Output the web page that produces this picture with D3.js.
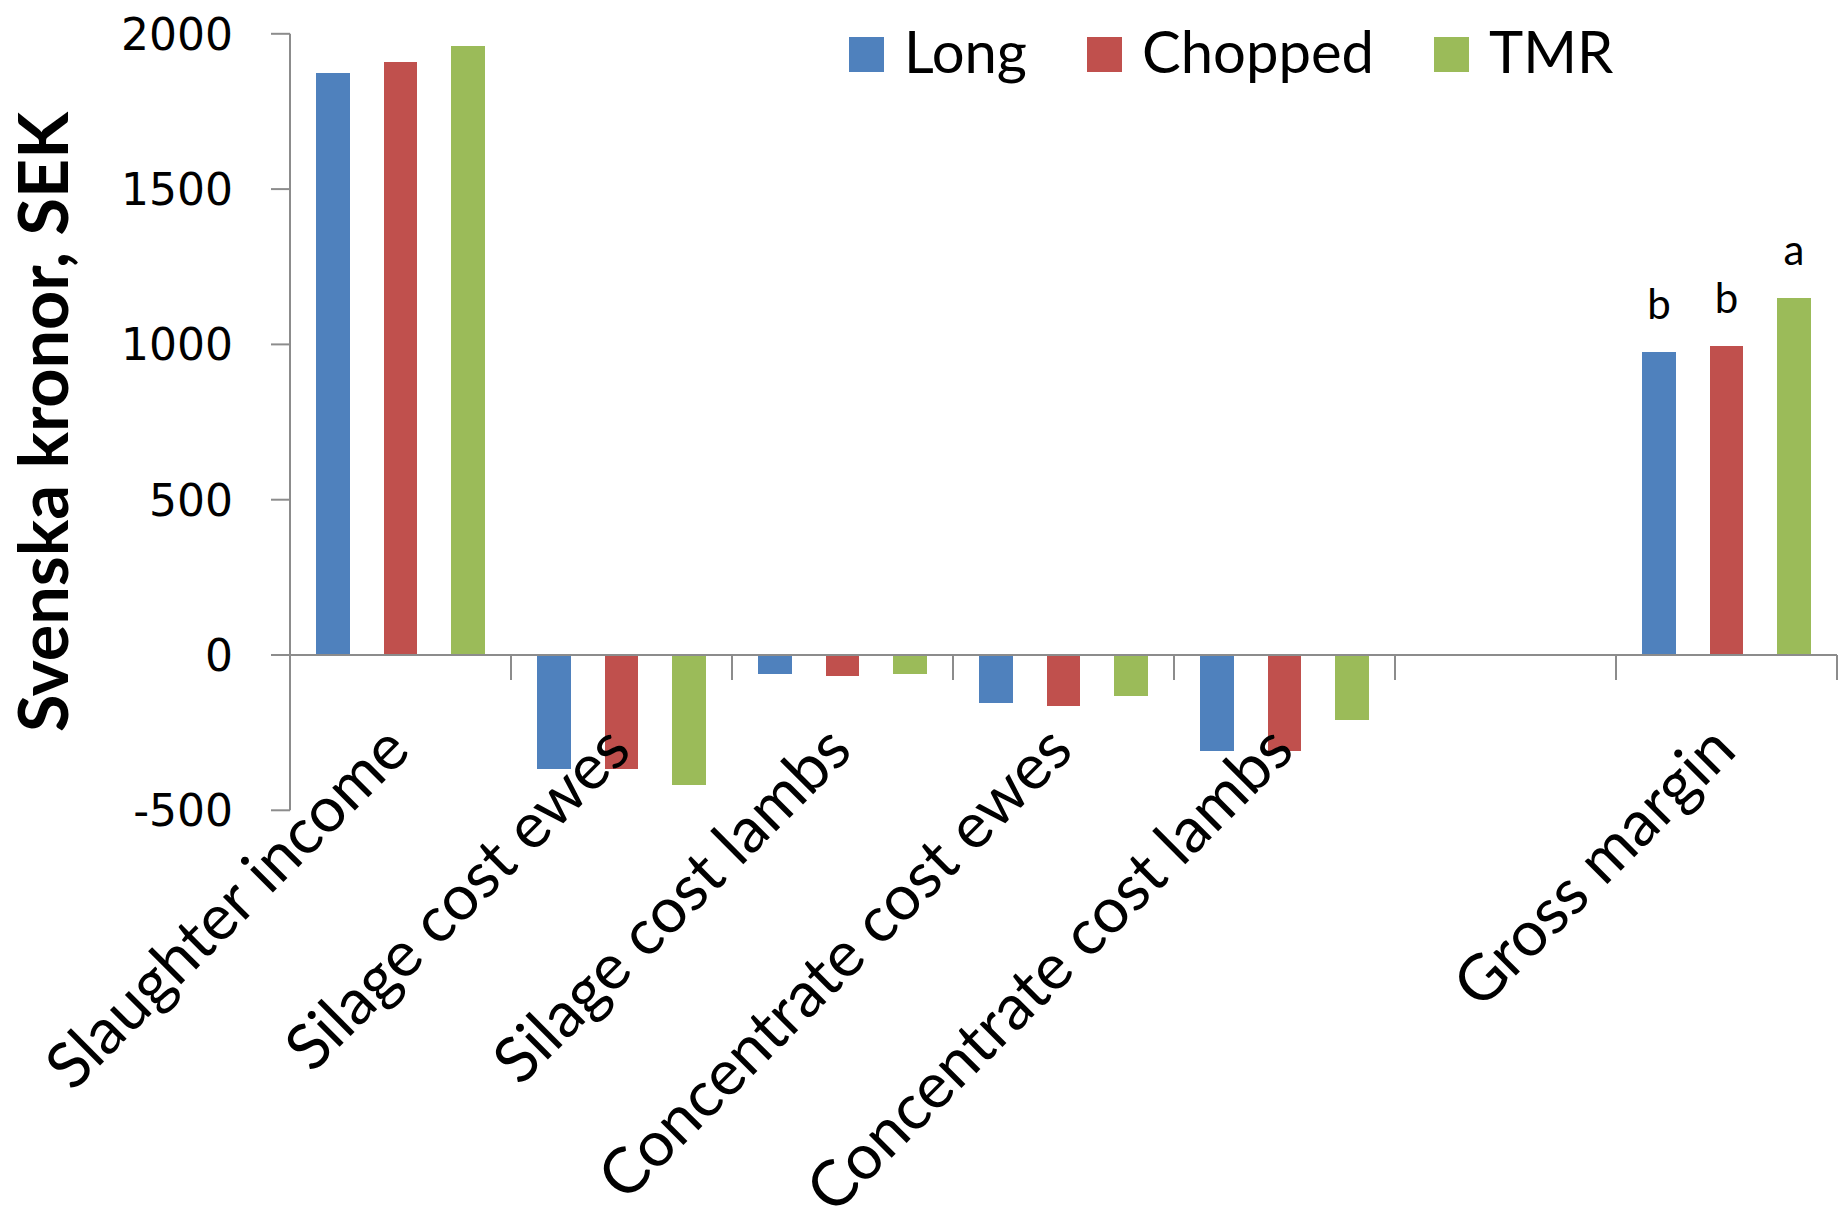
<!DOCTYPE html>
<html>
<head>
<meta charset="utf-8">
<script src="https://cdn.jsdelivr.net/npm/d3@7"></script>
<style>
  html, body { margin: 0; padding: 0; background: #fff; }
  svg { display: block; }
</style>
</head>
<body>
<script>
// ---------------- data ----------------
const categories = ["Slaughter income", "Silage cost ewes", "Silage cost lambs",
  "Concentrate cost ewes", "Concentrate cost lambs", "", "Gross margin"];
const seriesNames = ["Long", "Chopped", "TMR"];
const longValues    = [1875, -367, -60, -156, -309, null, 977];
const choppedValues = [1908, -367, -68, -163, -309, null, 996];
const tmrValues     = [1960, -418, -60, -131, -209, null, 1150];
const seriesColors = ["#4F81BD", "#C0504D", "#9BBB59"];
const yTicks = [-500, 0, 500, 1000, 1500, 2000];
const yTickLabels = ["-500", "0", "500", "1000", "1500", "2000"];
const yTitle = "Svenska kronor, SEK";
const letterCategory = "Gross margin";
const letters = ["b", "b", "a"];

const seriesValues = [longValues, choppedValues, tmrValues];

// ---------------- layout ----------------
const W = 1841, H = 1222;
const svg = d3.select("body").append("svg").attr("width", W).attr("height", H);

const calibri = "Lato, 'Open Sans', 'Noto Sans', sans-serif";
const tickFont = "'DejaVu Sans', Verdana, sans-serif";

function measure(text, family, weight, size) {
  const t = svg.append("text").attr("font-family", family).attr("font-weight", weight)
    .attr("font-size", size).text(text);
  const w = t.node().getComputedTextLength();
  t.remove();
  return w;
}
function fitSize(text, family, weight, target) {
  return 100 * target / measure(text, family, weight, 100);
}

const x0 = d3.scaleBand().domain(categories.map((c, i) => i)).range([290, 1837]).padding(0);
const x1 = d3.scaleBand().domain(d3.range(seriesNames.length)).range([0, x0.bandwidth()])
  .paddingInner(0.5).paddingOuter(0.387);
const y = d3.scaleLinear().domain([-500, 2000]).range([810.3, 33.8]);

const axisColor = "#8c8c8c";

// bars
const g = svg.append("g");
categories.forEach((cat, ci) => {
  seriesValues.forEach((vals, si) => {
    const v = vals[ci];
    if (v == null) return;
    g.append("rect")
      .attr("x", x0(ci) + x1(si))
      .attr("width", x1.bandwidth())
      .attr("y", y(Math.max(0, v)))
      .attr("height", Math.abs(y(v) - y(0)))
      .attr("fill", seriesColors[si])
      .attr("shape-rendering", "crispEdges");
  });
});

// y axis
const yAxis = svg.append("g");
yAxis.append("line").attr("x1", 290).attr("x2", 290)
  .attr("y1", y(2000)).attr("y2", y(-500))
  .attr("stroke", axisColor).attr("stroke-width", 2);
yTicks.forEach((t, i) => {
  yAxis.append("line").attr("x1", 271).attr("x2", 290)
    .attr("y1", y(t)).attr("y2", y(t))
    .attr("stroke", axisColor).attr("stroke-width", 2);
  yAxis.append("text").attr("x", 233).attr("y", y(t))
    .attr("dy", "0.36em").attr("text-anchor", "end")
    .attr("font-family", tickFont).attr("font-size", 44).attr("fill", "#000")
    .text(yTickLabels[i]);
});

// x axis
const xAxis = svg.append("g");
xAxis.append("line").attr("x1", 290).attr("x2", 1837)
  .attr("y1", y(0)).attr("y2", y(0))
  .attr("stroke", axisColor).attr("stroke-width", 2);
categories.forEach((c, ci) => {
  const xr = x0(ci) + x0.bandwidth();
  xAxis.append("line").attr("x1", xr).attr("x2", xr)
    .attr("y1", y(0)).attr("y2", y(0) + 25)
    .attr("stroke", axisColor).attr("stroke-width", 2);
});

// category labels
const catSize = fitSize("Concentrate cost lambs", calibri, 400, 655);
categories.forEach((c, ci) => {
  if (!c) return;
  const ax = x0(ci) + x0.bandwidth() / 2 + 12;
  const ay = 753;
  svg.append("text")
    .attr("transform", `translate(${ax},${ay}) rotate(-45)`)
    .attr("text-anchor", "end")
    .attr("font-family", calibri).attr("font-size", catSize).attr("fill", "#000")
    .text(c);
});

// y title
const titleSize = fitSize(yTitle, calibri, 700, 620);
svg.append("text")
  .attr("transform", `translate(68,422) rotate(-90)`)
  .attr("text-anchor", "middle")
  .attr("font-family", calibri).attr("font-weight", 700)
  .attr("font-size", titleSize).attr("fill", "#000")
  .text(yTitle);

// significance letters
const lc = categories.indexOf(letterCategory);
letters.forEach((l, si) => {
  const v = seriesValues[si][lc];
  svg.append("text")
    .attr("x", x0(lc) + x1(si) + x1.bandwidth() / 2)
    .attr("y", y(v) - 33)
    .attr("text-anchor", "middle")
    .attr("font-family", calibri).attr("font-size", 42).attr("fill", "#000")
    .text(l);
});

// legend
const legSize = fitSize("Chopped", calibri, 400, 232);
let lx = 849;
seriesNames.forEach((name, si) => {
  svg.append("rect").attr("x", lx).attr("y", 37).attr("width", 35).attr("height", 35)
    .attr("fill", seriesColors[si]).attr("shape-rendering", "crispEdges");
  const t = svg.append("text").attr("x", lx + 55).attr("y", 73)
    .attr("font-family", calibri).attr("font-size", legSize).attr("fill", "#000")
    .text(name);
  lx = lx + 55 + t.node().getComputedTextLength() + 60;
});
</script>
</body>
</html>
